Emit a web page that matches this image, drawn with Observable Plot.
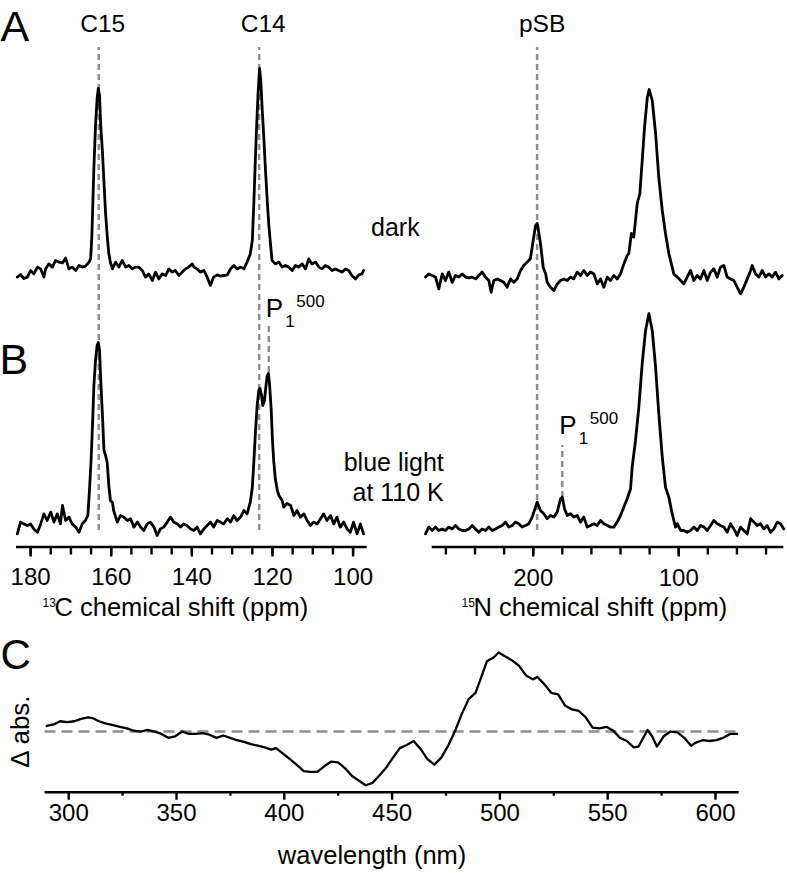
<!DOCTYPE html>
<html>
<head>
<meta charset="utf-8">
<script src="https://cdn.jsdelivr.net/npm/d3@7"></script>
<script src="https://cdn.jsdelivr.net/npm/@observablehq/plot@0.6"></script>
<style>
  html, body { margin: 0; padding: 0; background: #fff; }
  #fig { position: relative; width: 787px; height: 873px; overflow: hidden; background: #fff; }
  #fig svg { overflow: visible; }
</style>
</head>
<body>
<div id="fig"></div>
<script>
// ---------------- data ----------------
// 13C spectra: [chemical shift (ppm), intensity (a.u.)]
const c13Dark = [
[183.3,-3.3],[182.5,-2],[181.7,-4],[180.8,-3.3],[180.0,0],[179.2,-1.7],[178.3,1.7],[177.5,0.8],[176.7,-3.3],[176.3,0.8],[175.5,3.3],[174.6,1.7],[173.8,5],[173.0,4.2],[172.1,3.8],[171.3,6.2],[170.5,0.8],[169.7,1.7],[168.8,0],[168.0,2.5],[167.2,1.7],[166.4,2.2],[165.5,4.2],[165.1,6],[164.8,17.5],[164.3,51.5],[163.9,72.5],[163.5,86],[163.2,91],[162.9,87.5],[162.6,72.5],[162.2,60],[161.8,44],[161.4,28.5],[161.0,17.5],[160.6,8.5],[160.2,4],[159.7,0.8],[158.9,4.2],[158.1,1.7],[157.3,5],[156.4,1.7],[155.6,2.5],[154.8,0.8],[154.0,1.7],[153.2,1.7],[152.3,0],[151.5,-3.3],[150.7,-1.7],[149.8,-5],[149.0,-0.8],[148.2,-4.2],[147.4,-1.7],[146.5,-2.5],[145.7,0.8],[144.9,-0.8],[144.1,0],[143.2,-2.5],[142.4,-0.8],[141.6,0.8],[140.8,1.7],[139.9,3.3],[139.5,1.7],[138.7,0.8],[137.9,-0.8],[137.0,0],[136.2,-3.3],[135.4,-7.5],[134.6,-3.3],[133.7,-2.2],[132.9,-2.8],[132.1,-2.5],[131.2,-2.2],[130.4,0.8],[129.6,2.5],[128.8,0.8],[127.9,1.7],[127.1,0.8],[126.3,4.2],[125.5,8.3],[125.0,15],[124.6,35],[124.3,52.5],[124.0,68.5],[123.6,87.5],[123.2,101],[122.9,95],[122.6,82.5],[122.2,68.5],[121.8,52.5],[121.3,35],[120.9,22.5],[120.5,13.5],[120.1,5],[119.3,3.3],[118.4,4.2],[117.6,1.7],[116.8,2.5],[116.0,1.7],[115.1,0],[114.3,2.5],[113.5,1.7],[112.6,3.3],[111.8,0.8],[111.0,5.8],[110.2,3.3],[109.3,4.2],[108.5,1.7],[107.7,0.8],[106.9,2.5],[106.1,1.7],[105.2,0],[104.4,0.8],[103.6,0],[102.7,-0.8],[101.9,0.8],[101.1,0],[100.3,-2.5],[99.4,-4.2],[98.6,-2.2],[97.8,-1.7],[97.4,0]
];
const c13Light = [
[183.3,-3.2],[182.5,2.7],[181.7,1.8],[180.8,1],[180.0,1.8],[179.2,-0.7],[178.3,-2.4],[177.5,1.8],[176.7,6.8],[175.9,3.5],[175.0,7.7],[174.2,2.7],[173.4,6.8],[172.6,1.8],[172.1,11],[171.3,3.5],[170.5,5.2],[169.7,1.8],[168.8,0.2],[168.0,-2.4],[167.2,1.8],[166.4,3.5],[165.8,6],[165.4,18.5],[165.0,33.5],[164.6,53.5],[164.3,71],[163.9,83.5],[163.5,91],[163.2,92.5],[162.9,88.5],[162.6,73.5],[162.2,57],[161.8,38.5],[161.4,36],[161.0,32.5],[160.6,21],[160.2,13.5],[159.7,12.5],[159.4,8.5],[158.5,2.7],[157.7,6],[156.9,5.2],[156.0,3.5],[155.2,4.4],[154.4,0.2],[153.5,2.7],[152.7,0.2],[151.9,-1.5],[151.1,1.8],[150.3,2.7],[149.4,0.2],[148.6,-4],[147.8,-0.7],[147.0,0.2],[146.1,2.7],[145.3,5.2],[144.5,2.7],[143.6,1.8],[142.8,0.2],[142.0,1.8],[141.2,1],[140.3,-0.7],[139.5,-1.5],[138.7,0.2],[137.9,-3.2],[137.0,-0.7],[136.2,1],[135.4,2.7],[134.6,0.2],[133.7,3.5],[132.9,2.7],[132.1,1.8],[131.2,4.4],[130.4,2.7],[129.6,6],[128.8,3.5],[127.9,5.2],[127.1,8.5],[126.3,6.8],[125.5,12.7],[125.0,20],[124.6,33.5],[124.2,48.5],[123.8,61],[123.4,68.5],[123.1,69.5],[122.7,66],[122.4,61],[122.0,63.5],[121.6,71],[121.3,76],[121.0,77],[120.7,71],[120.3,58.5],[120.0,43.5],[119.7,33.5],[119.3,24.5],[118.8,18.5],[118.4,16],[117.6,13.5],[117.2,10.2],[116.4,12],[115.5,11],[114.7,6],[113.9,8.5],[113.1,5.2],[112.2,6.8],[111.4,3.5],[110.6,1],[109.8,2.7],[108.9,1.8],[108.1,4.4],[107.3,6.8],[106.5,3.5],[105.6,6],[104.8,1.8],[104.0,5.2],[103.2,0.2],[102.3,2.7],[101.5,-0.7],[100.7,-2.4],[99.9,2.7],[99.0,-3.2],[98.2,1.8],[97.4,-3.2]
];
// 15N spectra: [chemical shift (ppm), intensity (a.u.)]
const n15Dark = [
[274.0,0.2],[271.8,1.8],[269.4,1],[267.1,0.2],[264.9,-5.7],[262.5,1.8],[260.3,-1.5],[258.0,2.7],[255.7,-2.4],[253.4,1],[251.1,0.2],[248.8,1.8],[246.5,0.2],[244.3,-0.2],[241.9,0.2],[239.7,-0.7],[237.4,1],[235.1,2.7],[232.8,0.2],[230.5,-1.5],[228.9,-7.4],[227.1,-1.5],[224.7,-0.7],[222.5,-1.5],[220.2,-2.4],[217.9,-4.9],[215.6,-0.7],[213.3,-2.4],[211.0,-0.7],[208.7,3.5],[206.5,6],[204.1,7.7],[201.9,9.5],[200.0,18.5],[198.4,26],[197.3,27],[196.8,25.5],[195.0,17],[193.1,5],[191.5,2],[190.4,-2.4],[188.1,-4.9],[185.8,-6.5],[183.5,-3.2],[181.2,-1.5],[179.0,-0.7],[176.6,-1.5],[174.4,0.2],[172.1,-0.7],[169.8,2.7],[167.5,1],[165.2,3.5],[162.9,1],[160.6,2.7],[158.3,1.8],[156.0,-3.2],[153.7,-0.7],[151.5,-4.9],[149.1,0.2],[146.9,-1.5],[144.6,1],[142.3,-0.7],[140.0,1.8],[137.7,6.8],[135.4,11],[134.3,12],[132.5,22],[130.9,20.2],[128.5,37],[126.7,42],[125.1,58.5],[123.5,75],[121.6,90],[120.3,94],[118.2,88.5],[115.9,72],[113.7,50],[111.3,33.5],[109.1,22],[106.8,12],[104.5,5.2],[103.4,1.8],[101.0,0.2],[98.7,-1.5],[96.5,-3.2],[94.2,0.2],[91.9,3.5],[89.6,-1.5],[87.3,1],[85.0,-0.7],[82.7,3.5],[80.4,-1.5],[78.1,2.7],[75.9,4.4],[73.5,0.2],[71.3,5.2],[69.0,6],[66.7,0.2],[64.4,-0.7],[62.1,-1.5],[59.8,-4.9],[57.5,-8.2],[55.3,-4.9],[52.9,-0.7],[50.6,3.5],[49.5,6],[47.2,1.8],[44.9,0.2],[42.6,3.5],[40.3,0.2],[38.1,1.8],[35.7,0.2],[33.5,2.7],[31.2,-0.7],[28.9,1]
];
const n15Light = [
[274.0,-2.7],[271.8,0.7],[269.4,-1],[267.1,0.7],[264.9,-1],[262.5,-0.2],[260.3,-1],[258.0,0.7],[255.7,-0.2],[253.4,1.5],[251.1,-0.2],[248.8,-1],[246.5,-1],[244.3,-0.2],[241.9,1.5],[239.7,-0.2],[237.4,-1.9],[235.1,-0.2],[232.8,-1],[230.5,0.7],[228.2,-1],[225.9,-0.2],[223.6,0.7],[221.3,1.5],[219.0,3.2],[216.8,0.7],[214.4,1.5],[212.2,3.2],[209.9,2.4],[207.6,0.7],[205.3,1.5],[203.0,2.4],[200.7,5.7],[198.4,10.7],[197.3,13.2],[195.0,9],[192.7,7.4],[190.4,4.9],[188.1,6.5],[185.8,5.7],[183.5,8.2],[181.2,14.9],[180.0,15.7],[178.5,9.9],[176.6,6.5],[174.4,7.4],[172.1,5.7],[169.8,6.5],[167.5,3.2],[165.2,5.7],[162.9,0.7],[160.6,1.5],[158.3,2.4],[156.0,1.5],[153.7,4],[151.5,2.4],[149.1,1.5],[146.9,0.7],[144.6,0.7],[142.3,3.2],[140.0,6.5],[137.7,10.7],[135.4,14.9],[133.1,19.9],[132.0,30.7],[129.7,44],[127.4,60.7],[125.1,82.4],[122.8,99],[120.5,107.4],[118.2,99],[115.9,80.7],[113.7,57.4],[111.3,35.7],[109.1,20.7],[106.8,15.7],[104.5,7.4],[102.2,0.7],[101.0,2.4],[98.7,-1],[96.5,-1],[94.2,-1.9],[91.9,-1],[89.6,0.7],[87.3,-1],[85.0,1.5],[82.7,0.7],[80.4,-1],[78.1,1.5],[75.9,4],[73.5,2.4],[71.3,1.5],[69.0,0.7],[66.7,-1.9],[64.4,2.4],[62.1,-0.2],[59.8,-3.5],[57.5,0.7],[55.3,-1],[52.9,-2.7],[50.6,4.9],[48.4,3.2],[46.0,1.5],[43.8,2.4],[41.5,-0.2],[39.2,1.5],[36.9,-1.9],[34.6,-0.2],[32.3,3.2],[30.1,2.4],[27.8,-0.2]
];
// UV-vis difference spectrum: [wavelength (nm), delta absorbance (a.u.)]
const uvDiff = [
[289.8,0.07],[293,0.09],[296,0.13],[299.4,0.12],[302.6,0.13],[305.7,0.16],[309,0.18],[311,0.17],[314,0.13],[317.4,0.10],[320.6,0.08],[323.8,0.06],[327,0.04],[330.2,0.01],[333.4,0.00],[336.6,0.02],[339.8,0.00],[343,-0.03],[346.2,-0.08],[349.4,-0.06],[352.6,0.00],[355.7,-0.03],[359,-0.03],[362,-0.02],[365.3,-0.04],[368.5,-0.08],[371.7,-0.05],[374.9,-0.08],[378,-0.11],[381.3,-0.13],[384.5,-0.16],[387.7,-0.18],[390.9,-0.20],[394,-0.23],[396.2,-0.21],[399.4,-0.28],[402.6,-0.35],[405.7,-0.42],[409,-0.50],[412,-0.51],[415.3,-0.51],[418.5,-0.44],[421.7,-0.38],[424.9,-0.39],[428,-0.46],[431.3,-0.56],[434.5,-0.62],[437.7,-0.68],[440.9,-0.65],[444,-0.56],[447.2,-0.46],[450.4,-0.33],[453.6,-0.21],[456.8,-0.17],[460,-0.12],[463.2,-0.22],[466.4,-0.35],[469.6,-0.42],[472.8,-0.33],[476,-0.18],[479.1,0.00],[482.3,0.22],[485.5,0.41],[488.7,0.49],[491.9,0.73],[494,0.89],[497.2,0.94],[499.4,1.00],[502.5,0.95],[505.7,0.90],[508.9,0.83],[512.1,0.71],[515.3,0.66],[517.4,0.69],[520.6,0.60],[523.8,0.49],[527,0.47],[530.2,0.33],[533.4,0.28],[536.6,0.26],[539.8,0.18],[543,0.05],[546.2,0.04],[549.4,0.06],[552.6,0.01],[555.7,-0.08],[558.9,-0.12],[562.1,-0.20],[564.3,-0.19],[568.5,0.02],[570.6,-0.06],[572.8,-0.19],[576,-0.06],[579.1,0.00],[582.3,-0.01],[585.5,-0.08],[588.7,-0.18],[590.9,-0.14],[594,-0.11],[597.2,-0.12],[600.4,-0.11],[603.6,-0.08],[606.8,-0.03],[610,-0.03]
];

// peak markers (dashed guides) and their labels
const c13Guides = [
  {ppm: 163.1, from: -1.5, to: 240, label: "C15"},
  {ppm: 123.3, from: -1.5, to: 240, label: "C14"}
];
const c13P1 = [{ppm: 120.9, from: 77.5, to: 102.5, labelY: 105.2}];
const n15Guides = [{ppm: 197.3, from: -1, to: 240.5, label: "pSB"}];
const n15P1 = [{ppm: 180.0, from: 15.5, to: 41.5, labelY: 47.3}];

// axis ticks
const c13MinorTicks = d3.range(100, 181, 5);
const c13MajorTicks = [100, 120, 140, 160, 180];
const n15MinorTicks = d3.range(40, 261, 20);
const n15MajorTicks = [100, 200];
const uvMajorTicks = [300, 350, 400, 450, 500, 550, 600];
const uvMinorTicks = [325, 375, 425, 475, 525, 575];

// vertical offsets of the "dark" traces above the "blue light" traces
const c13DarkOffset = 128.5;
const n15DarkOffset = 125.5;

// ---------------- styling ----------------
const FONT = '"Liberation Sans", Arial, Helvetica, sans-serif';
const INK = "#000";
const GUIDE = "#8f8f8f";
const baseStyle = {fontFamily: FONT, fontSize: "24px", overflow: "visible", background: "transparent", color: INK};

function place(el, left, top, w) {
  const wrap = document.createElement("div");
  wrap.style.cssText = `position:absolute;left:${left}px;top:${top}px;width:${w}px;`;
  wrap.appendChild(el);
  document.getElementById("fig").appendChild(wrap);
}

function p1Marks(rows, fontBig, fontSmall) {
  return [
    Plot.text(rows, {x: "ppm", y: "labelY", text: () => "P", textAnchor: "start", lineAnchor: "bottom", dx: -3, fontSize: fontBig}),
    Plot.text(rows, {x: "ppm", y: "labelY", text: () => "1", textAnchor: "start", lineAnchor: "bottom", dx: 16.5, dy: 10.3, fontSize: fontSmall}),
    Plot.text(rows, {x: "ppm", y: "labelY", text: () => "500", textAnchor: "start", lineAnchor: "bottom", dx: 27.5, dy: -10, fontSize: fontSmall})
  ];
}

// ---------------- 13C panel ----------------
const c13YDomain = [-9.75, 260.25];
const c13 = Plot.plot({
  width: 390, height: 620,
  marginLeft: 16, marginRight: 23.3, marginTop: 6.5, marginBottom: 73.5,
  x: {domain: [183.5, 96.5]},
  y: {domain: c13YDomain, axis: null},
  style: baseStyle,
  marks: [
    Plot.ruleX(c13Guides, {x: "ppm", y1: "from", y2: "to", stroke: GUIDE, strokeWidth: 2.5, strokeDasharray: "6,4"}),
    Plot.ruleX(c13P1, {x: "ppm", y1: "from", y2: "to", stroke: GUIDE, strokeWidth: 2.5, strokeDasharray: "6,4"}),
    Plot.line(c13Dark, {x: d => d[0], y: d => d[1] + c13DarkOffset, stroke: INK, strokeWidth: 2.8, strokeLinejoin: "round"}),
    Plot.line(c13Light, {x: d => d[0], y: d => d[1], stroke: INK, strokeWidth: 2.8, strokeLinejoin: "round"}),
    Plot.ruleY([c13YDomain[0]], {stroke: INK, strokeWidth: 2.6}),
    Plot.axisX(c13MinorTicks, {tickSize: 8, tickFormat: () => "", strokeWidth: 2.4, label: null}),
    Plot.axisX(c13MajorTicks, {tickSize: 10, tickPadding: 11, strokeWidth: 2.4, fontSize: 24, label: null}),
    Plot.text(c13Guides, {x: "ppm", y: () => 247.7, text: "label", dx: 4, lineAnchor: "bottom", fontSize: 24.5}),
    ...p1Marks(c13P1, 26, 17),
    Plot.text(["dark"], {x: () => 95.55, y: () => 146, textAnchor: "start", lineAnchor: "bottom", fontSize: 25}),
    Plot.text(["blue light\nat 110 K"], {x: () => 77.5, y: () => 13.5, textAnchor: "end", lineAnchor: "bottom", lineHeight: 1.2, fontSize: 25}),
    Plot.text(["C chemical shift (ppm)"], {frameAnchor: "bottom-left", dx: 38, dy: 68.5, textAnchor: "start", lineAnchor: "bottom", fontSize: 25.5}),
    Plot.text(["13"], {frameAnchor: "bottom-left", dx: 26, dy: 59.5, textAnchor: "start", lineAnchor: "bottom", fontSize: 12}),
    Plot.text(["A"], {frameAnchor: "top-left", dx: -16, dy: 33.5, textAnchor: "start", lineAnchor: "bottom", fontSize: 43}),
    Plot.text(["B"], {frameAnchor: "top-left", dx: -17, dy: 366.5, textAnchor: "start", lineAnchor: "bottom", fontSize: 43})
  ]
});

// ---------------- 15N panel ----------------
const n15YDomain = [-9.25, 260.75];
const n15 = Plot.plot({
  width: 397, height: 620,
  marginLeft: 41.7, marginRight: 3.7, marginTop: 6.5, marginBottom: 73.5,
  x: {domain: [269.4, 27.8]},
  y: {domain: n15YDomain, axis: null},
  style: baseStyle,
  marks: [
    Plot.ruleX(n15Guides, {x: "ppm", y1: "from", y2: "to", stroke: GUIDE, strokeWidth: 2.5, strokeDasharray: "6,4"}),
    Plot.ruleX(n15P1, {x: "ppm", y1: "from", y2: "to", stroke: GUIDE, strokeWidth: 2.5, strokeDasharray: "6,4"}),
    Plot.line(n15Dark, {x: d => d[0], y: d => d[1] + n15DarkOffset, stroke: INK, strokeWidth: 2.8, strokeLinejoin: "round"}),
    Plot.line(n15Light, {x: d => d[0], y: d => d[1], stroke: INK, strokeWidth: 2.8, strokeLinejoin: "round"}),
    Plot.ruleY([n15YDomain[0]], {stroke: INK, strokeWidth: 2.6}),
    Plot.axisX(n15MinorTicks, {tickSize: 8, tickFormat: () => "", strokeWidth: 2.4, label: null}),
    Plot.axisX(n15MajorTicks, {tickSize: 10, tickPadding: 12, strokeWidth: 2.4, fontSize: 24, label: null}),
    Plot.text(n15Guides, {x: "ppm", y: () => 248.2, text: "label", dx: 5, lineAnchor: "bottom", fontSize: 24.5}),
    ...p1Marks(n15P1, 26, 17),
    Plot.text(["N chemical shift (ppm)"], {frameAnchor: "bottom-left", dx: 41.3, dy: 68.5, textAnchor: "start", lineAnchor: "bottom", fontSize: 25.5}),
    Plot.text(["15"], {frameAnchor: "bottom-left", dx: 29.3, dy: 59.5, textAnchor: "start", lineAnchor: "bottom", fontSize: 12})
  ]
});

// ---------------- UV-vis panel ----------------
const uvYDomain = [-0.768, 1.152];
const uv = Plot.plot({
  width: 787, height: 253,
  marginLeft: 44.5, marginRight: 48.3, marginTop: 20, marginBottom: 81.3,
  x: {domain: [289, 611]},
  y: {domain: uvYDomain, axis: null},
  style: baseStyle,
  marks: [
    Plot.ruleY([0], {stroke: GUIDE, strokeWidth: 2.5, strokeDasharray: "11,6"}),
    Plot.line(uvDiff, {x: d => d[0], y: d => d[1], stroke: INK, strokeWidth: 2.3, strokeLinejoin: "round"}),
    Plot.ruleY([uvYDomain[0]], {stroke: INK, strokeWidth: 2.6}),
    Plot.axisX(uvMinorTicks, {tickSize: 4, tickFormat: () => "", strokeWidth: 2.4, label: null}),
    Plot.axisX(uvMajorTicks, {tickSize: 8, tickPadding: 4, strokeWidth: 2.4, fontSize: 24, label: null}),
    Plot.text(["wavelength (nm)"], {frameAnchor: "bottom", dx: -20, dy: 71.3, lineAnchor: "bottom", fontSize: 25.5}),
    Plot.text(["\u0394 abs."], {frameAnchor: "left", dx: -24.5, dy: 15.2, rotate: -90, textAnchor: "middle", lineAnchor: "middle", fontSize: 26}),
    Plot.text(["C"], {frameAnchor: "top-left", dx: -44.5, dy: 28.3, textAnchor: "start", lineAnchor: "bottom", fontSize: 42})
  ]
});

place(c13, 0, 0, 390);
place(n15, 390, 0, 397);
place(uv, 0, 620, 787);
</script>
</body>
</html>
